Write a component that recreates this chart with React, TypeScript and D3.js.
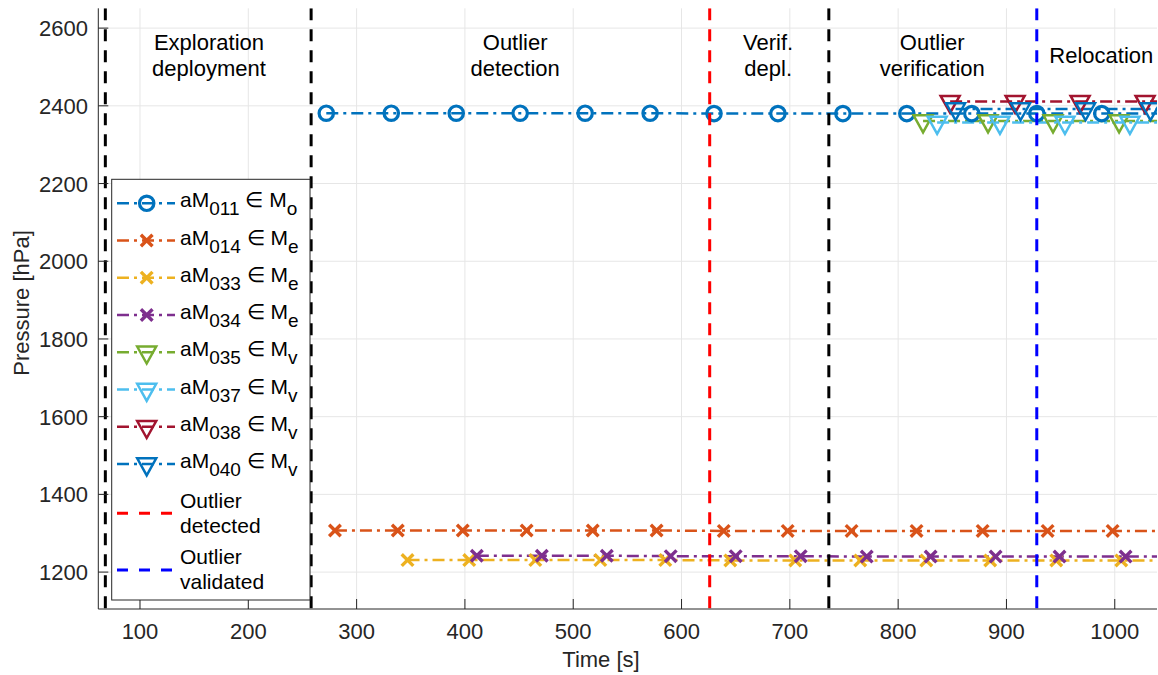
import React from "react";
import * as d3 from "d3";

// ---- data ----
const xTicks = [100, 200, 300, 400, 500, 600, 700, 800, 900, 1000];
const yTicks = [1200, 1400, 1600, 1800, 2000, 2200, 2400, 2600];
const xDomain = [61.5, 1039];
const yDomain = [1105, 2651];

const t011 = [272, 332, 392, 451, 511, 571, 630, 689, 749, 808, 868, 928, 988];
const v011 = [2381, 2381, 2381, 2381, 2381, 2381, 2380, 2380, 2380, 2380, 2380, 2380, 2380];
const t014 = [280, 338, 398, 457, 518, 577, 639, 698, 757, 817, 878, 938, 998];
const v014 = [1307, 1307, 1307, 1307, 1307, 1307, 1306, 1306, 1306, 1306, 1306, 1306, 1306];
const t033 = [347, 404, 465, 525, 585, 645, 705, 765, 826, 885, 946, 1006];
const v033 = [1231, 1231, 1231, 1231, 1231, 1230, 1230, 1230, 1230, 1230, 1230, 1230];
const t034 = [411, 471, 531, 590, 650, 710, 771, 830, 890, 949, 1010];
const v034 = [1242, 1242, 1242, 1241, 1241, 1241, 1240, 1240, 1240, 1240, 1240];
const t035 = [823, 883, 943, 1004];
const v035 = [2361, 2361, 2361, 2361];
const t037 = [836, 894, 954, 1014];
const v037 = [2357, 2357, 2357, 2357];
const t038 = [848, 908, 968, 1028];
const v038 = [2411, 2411, 2411, 2411];
const t040 = [853, 913, 973, 1033];
const v040 = [2392, 2392, 2392, 2392];

const phaseBounds = [68, 258, 736];
const outlierDetected = 626;
const outlierValidated = 928;

const phaseLabels = [
  { t: 163.7, lines: ["Exploration", "deployment"] },
  { t: 446.4, lines: ["Outlier", "detection"] },
  { t: 680, lines: ["Verif.", "depl."] },
  { t: 831.5, lines: ["Outlier", "verification"] },
  { t: 987.6, lines: ["Relocation"] },
];

type Marker = "o" | "x" | "v";
const series = [
  { id: "011", set: "o", color: "#0072BD", marker: "o" as Marker, t: t011, v: v011 },
  { id: "014", set: "e", color: "#D95319", marker: "x" as Marker, t: t014, v: v014 },
  { id: "033", set: "e", color: "#EDB120", marker: "x" as Marker, t: t033, v: v033 },
  { id: "034", set: "e", color: "#7E2F8E", marker: "x" as Marker, t: t034, v: v034 },
  { id: "035", set: "v", color: "#77AC30", marker: "v" as Marker, t: t035, v: v035 },
  { id: "037", set: "v", color: "#4DBEEE", marker: "v" as Marker, t: t037, v: v037 },
  { id: "038", set: "v", color: "#A2142F", marker: "v" as Marker, t: t038, v: v038 },
  { id: "040", set: "v", color: "#0072BD", marker: "v" as Marker, t: t040, v: v040 },
];

// ---- layout ----
const W = 1158;
const H = 675;
const L = 98.3, R = 1157, T = 8.3, B = 609;
const FONT = "'Liberation Sans', Arial, Helvetica, sans-serif";
const AX = "#262626";

function MarkerShape({ kind, x, y, color }: { kind: Marker; x: number; y: number; color: string }) {
  if (kind === "o") {
    return <circle cx={x} cy={y} r={7.2} fill="none" stroke={color} strokeWidth={3.2} />;
  }
  if (kind === "x") {
    const s = 5.8;
    return (
      <path
        d={`M${x - s},${y - s}L${x + s},${y + s}M${x - s},${y + s}L${x + s},${y - s}`}
        stroke={color}
        strokeWidth={3.4}
        fill="none"
      />
    );
  }
  const hw = 9.5, h = 17;
  return (
    <path
      d={`M${x - hw},${y - h / 3}L${x + hw},${y - h / 3}L${x},${y + (2 * h) / 3}Z`}
      fill="none"
      stroke={color}
      strokeWidth={2.5}
      strokeLinejoin="miter"
    />
  );
}

export default function App() {
  const x = d3.scaleLinear().domain(xDomain).range([L, R]);
  const y = d3.scaleLinear().domain(yDomain).range([B, T]);
  const line = d3
    .line<[number, number]>()
    .x((d) => x(d[0]))
    .y((d) => y(d[1]));

  const dashDot = "12,5,3,5";
  const vDash = "12,9";

  const vlines = [
    ...phaseBounds.map((t) => ({ t, color: "#000000" })),
    { t: outlierDetected, color: "#FF0000" },
    { t: outlierValidated, color: "#0000FF" },
  ];

  // legend
  const lgX = 111.7, lgY = 179.3, lgW = 198.3, lgH = 420.7;
  const rowY = [203.3, 240.5, 277.7, 315, 352.2, 389.5, 426.7, 464];
  const lineX0 = 117, lineX1 = 175, mX = 146.7, txtX = 180;

  return (
    <div style={{ position: "fixed", left: 0, top: 0 }}>
      <svg width={W} height={H} style={{ display: "block", background: "#fff" }} fontFamily={FONT}>
        <defs>
          <clipPath id="plotclip">
            <rect x={L} y={T} width={R - L} height={B - T} />
          </clipPath>
        </defs>
        <rect x={0} y={0} width={W} height={H} fill="#fff" />
        {/* grid */}
        {xTicks.map((t) => (
          <line key={"gx" + t} x1={x(t)} x2={x(t)} y1={T} y2={B} stroke="#e6e6e6" strokeWidth={1} />
        ))}
        {yTicks.map((t) => (
          <line key={"gy" + t} x1={L} x2={R} y1={y(t)} y2={y(t)} stroke="#e6e6e6" strokeWidth={1} />
        ))}

        {/* series */}
        <g clipPath="url(#plotclip)">
          {series.map((s) => {
            const pts: [number, number][] = s.t.map((t, i) => [t, s.v[i]] as [number, number]);
            pts.push([xDomain[1] + 5, s.v[s.v.length - 1]]);
            return (
              <path
                key={"l" + s.id}
                d={line(pts) || ""}
                fill="none"
                stroke={s.color}
                strokeWidth={2.5}
                strokeDasharray={dashDot}
              />
            );
          })}
          {series.map((s) =>
            s.t.map((t, i) => (
              <MarkerShape key={"m" + s.id + i} kind={s.marker} x={x(t)} y={y(s.v[i])} color={s.color} />
            ))
          )}
          {vlines.map((v, i) => (
            <line
              key={"v" + i}
              x1={x(v.t)}
              x2={x(v.t)}
              y1={T}
              y2={B}
              stroke={v.color}
              strokeWidth={3}
              strokeDasharray={vDash}
            />
          ))}
        </g>

        {/* phase labels */}
        {phaseLabels.map((p, i) => (
          <text key={"p" + i} textAnchor="middle" fontSize={22} fill="#000">
            {p.lines.length === 1 ? (
              <tspan x={x(p.t)} y={63}>
                {p.lines[0]}
              </tspan>
            ) : (
              p.lines.map((ln, j) => (
                <tspan key={j} x={x(p.t)} y={50 + j * 26}>
                  {ln}
                </tspan>
              ))
            )}
          </text>
        ))}

        {/* axes */}
        <line x1={L} x2={R} y1={B} y2={B} stroke={AX} strokeWidth={1} />
        <line x1={L} x2={L} y1={T} y2={B} stroke={AX} strokeWidth={1} />
        {xTicks.map((t) => (
          <g key={"xt" + t}>
            <line x1={x(t)} x2={x(t)} y1={B} y2={B - 10} stroke={AX} strokeWidth={1} />
            <text x={x(t)} y={639} textAnchor="middle" fontSize={22} fill={AX}>
              {t}
            </text>
          </g>
        ))}
        {yTicks.map((t) => (
          <g key={"yt" + t}>
            <line x1={L} x2={L + 10} y1={y(t)} y2={y(t)} stroke={AX} strokeWidth={1} />
            <text x={88} y={y(t) + 8} textAnchor="end" fontSize={22} fill={AX}>
              {t}
            </text>
          </g>
        ))}
        <text x={601} y={667} textAnchor="middle" fontSize={22} fill={AX}>
          Time [s]
        </text>
        <text
          transform={`translate(29,303) rotate(-90)`}
          textAnchor="middle"
          fontSize={22}
          fill={AX}
        >
          Pressure [hPa]
        </text>

        {/* legend */}
        <rect x={lgX} y={lgY} width={lgW} height={lgH} fill="#fff" stroke={AX} strokeWidth={1} />
        {series.map((s, i) => (
          <g key={"lg" + s.id}>
            <line
              x1={lineX0}
              x2={lineX1}
              y1={rowY[i]}
              y2={rowY[i]}
              stroke={s.color}
              strokeWidth={2.5}
              strokeDasharray="12,5,3,5"
            />
            <MarkerShape kind={s.marker} x={mX} y={rowY[i]} color={s.color} />
            <text x={txtX} y={rowY[i] + 4} fontSize={21} fill="#000">
              aM
              <tspan fontSize={19} dy={8}>
                {s.id}
              </tspan>
              <tspan dy={-8} fontWeight={300}>{"  \u2208 "}</tspan>
              <tspan>M</tspan>
              <tspan fontSize={19} dy={8}>
                {s.set}
              </tspan>
            </text>
          </g>
        ))}
        {[
          { color: "#FF0000", y: 513.3, l1: "Outlier", l2: "detected", ty: 508 },
          { color: "#0000FF", y: 570, l1: "Outlier", l2: "validated", ty: 564 },
        ].map((e, i) => (
          <g key={"lo" + i}>
            <line
              x1={lineX0}
              x2={lineX1}
              y1={e.y}
              y2={e.y}
              stroke={e.color}
              strokeWidth={3}
              strokeDasharray="11,11"
            />
            <text fontSize={21} fill="#000">
              <tspan x={txtX} y={e.ty}>
                {e.l1}
              </tspan>
              <tspan x={txtX} y={e.ty + 25}>
                {e.l2}
              </tspan>
            </text>
          </g>
        ))}
      </svg>
    </div>
  );
}
